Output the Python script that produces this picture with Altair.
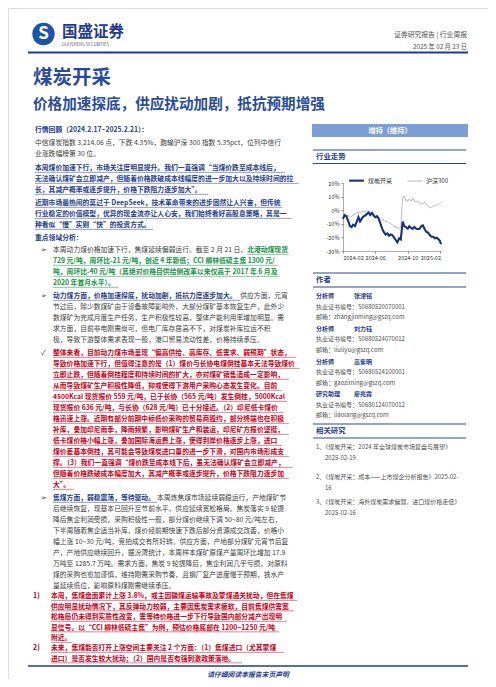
import altair as alt
import pandas as pd

FONT = "Noto Sans CJK SC"

# ---------------- line chart data ----------------
dates = [
    "2024-02-19", "2024-02-25", "2024-03-03", "2024-03-09", "2024-03-16", "2024-03-22",
    "2024-03-28", "2024-04-04", "2024-04-10", "2024-04-17", "2024-04-23", "2024-04-29",
    "2024-05-06", "2024-05-12", "2024-05-18", "2024-05-25", "2024-05-31", "2024-06-07",
    "2024-06-13", "2024-06-19", "2024-06-26", "2024-07-02", "2024-07-09", "2024-07-15",
    "2024-07-21", "2024-07-28", "2024-08-03", "2024-08-10", "2024-08-16", "2024-08-22",
    "2024-08-29", "2024-09-04", "2024-09-10", "2024-09-17", "2024-09-23", "2024-09-30",
    "2024-10-06", "2024-10-12", "2024-10-19", "2024-10-25", "2024-11-01", "2024-11-07",
    "2024-11-13", "2024-11-20", "2024-11-26", "2024-12-03", "2024-12-09", "2024-12-15",
    "2024-12-22", "2024-12-28", "2025-01-03", "2025-01-10", "2025-01-16", "2025-01-23",
    "2025-01-29", "2025-02-04", "2025-02-11", "2025-02-17", "2025-02-21",
]
coal = [
    -6.4, -3.6, -4.5, -7.6, -11.7, -12.4, -10.7, -11.7, -8.8, -5.2, -8.3, -6.4,
    -4.5, -4.0, -2.9, -1.7, -3.6, -2.1, -4.0, -5.2, -4.5, -6.4, -10.0, -13.6,
    -16.0, -17.9, -17.1, -18.8, -17.9, -18.3, -20.2, -21.9, -23.6, -20.7, -21.5, -8.3,
    -11.7, -12.4, -13.6, -11.7, -13.1, -13.6, -12.4, -13.6, -14.0, -13.6, -11.7, -11.2,
    -14.0, -16.0, -16.4, -18.3, -19.5, -19.5, -20.7, -20.2, -21.2, -22.6, -25.0,
]
hs300 = [
    -4.5, -4.5, -3.6, -4.0, -4.5, -4.5, -3.6, -2.9, -2.1, -1.7, -2.1, -1.2,
    -0.5, -1.2, -0.5, -0.5, -1.7, -2.1, -2.9, -3.6, -4.0, -4.5, -6.4, -7.6,
    -6.9, -8.3, -8.3, -9.3, -10.0, -10.7, -11.7, -12.4, -13.1, -13.1, -12.6, 9.5,
    10.5, 6.7, 6.7, 8.3, 6.7, 9.0, 6.7, 6.0, 6.7, 5.5, 4.3, 5.0,
    6.0, 4.3, 3.1, 1.9, 1.9, 3.1, 3.1, 3.6, 4.3, 5.5, 6.0,
]
series_names = ["煤炭开采", "沪深300"]
y_ticks = [-30, -20, -10, 0, 10, 20]
x_tick_dates = [(2024, 2, 19), (2024, 6, 19), (2024, 10, 19), (2025, 2, 19)]
x_domain = [(2024, 2, 19), (2025, 2, 21)]

# ---------------- page text ----------------
logo_mark = "S"
brand = "国盛证券"
brand_en = "GUOSHENG SECURITIES"
report_type = "证券研究报告  |  行业周报"
report_date = "2025 年 02 月 23 日"
title = "煤炭开采"
subtitle = "价格加速探底，供应扰动加剧，抵抗预期增强"
rating = "增持（维持）"
footer = "请仔细阅读本报告末页声明"

head_review = "行情回顾（2024.2.17~2025.2.21）："
p1 = [[("中信煤炭指数 3,214.06 点，下跌 4.35%，跑输沪深 300 指数 5.35pct，位列中信行", "n")],
      [("业涨跌幅榜第 30 位。", "n")]]
p2 = [[("本周煤价加速下行，市场关注度明显提升。我们一直强调“当煤价跌至成本线后，", "b")],
      [("无法确认煤矿会立即减产，但随着价格跌破成本线幅度的进一步加大以及持续时间的拉", "b")],
      [("长，其减产概率或逐步提升，价格下跌阻力逐步加大”。", "b")]]
p3 = [[("近期市场最热闹的莫过于 DeepSeek，技术革命带来的进步固然让人兴奋，但传统", "b")],
      [("行业稳定的价值模型，优异的现金流亦让人心安，我们始终看好高股息策略，其是一", "b")],
      [("种看似“慢”实则“快”的投资方式。", "b")]]
head_focus = "重点领域分析："
b1 = [[("本周动力煤价格加速下行，焦煤延续偏弱运行。截至 2 月 21 日，", "n"), ("北港动煤现货", "g")],
      [("729 元/吨，周环比-21 元/吨，创近 4 年新低；CCI 柳林低硫主焦 1300 元/", "g")],
      [("吨，周环比-40 元/吨（其绝对价格自供给侧改革以来仅高于 2017 年 6 月及", "g")],
      [("2020 年首月水平）。", "g")]]
b2 = [[("动力煤方面，价格加速探底，扰动加剧，抵抗力度逐步加大。", "b"), ("供应方面，元宵", "n")],
      [("节过后，除少数煤矿由于设备故障影响外，大部分煤矿基本恢复生产，此外少", "n")],
      [("数煤矿为完成月度生产任务，生产积极性较高，整体产能利用率增加明显。需", "n")],
      [("求方面，目前非电刚需尚可，但电厂库存居高不下，对煤炭补库拉运不积", "n")],
      [("极，导致下游整体需求表现一般，港口贸易流动性差，价格持续承压。", "n")]]
b3 = [[(t, "r")] for t in [
    "整体来看，目前动力煤市场呈现“偏高供给、高库存、低需求、弱预期”状态，",
    "导致价格加速下行，但值得注意的是（1）煤价与长协电煤倒挂基本无法导致煤价",
    "立即止跌，但随着倒挂程度和持续时间的扩大，亦对煤矿销售造成一定影响，",
    "从而导致煤矿生产积极性降低，抑或使得下游用户采购心态发生变化。目前",
    "4500Kcal 现货报价 559 元/吨，已于长协（565 元/吨）发生倒挂，5000Kcal",
    "现货报价 636 元/吨，与长协（628 元/吨）已十分接近。（2）印尼低卡煤价",
    "格迅速上涨。近期有部分前期中标低价采购的贸易商毁约，部分终端也在积极",
    "补库，叠加印尼雨季，降雨频繁，影响煤矿生产和装运，印尼矿方报价坚挺，",
    "低卡煤价格小幅上涨，叠加国际海运费上涨，使得到岸价格逐步上涨，进口",
    "煤价差基本倒挂，其可能会导致煤炭进口量的进一步下滑，对国内市场形成支",
    "撑。（3）我们一直强调“煤价跌至成本线下后，虽无法确认煤矿会立即减产，",
    "但随着价格跌破成本幅度加大，其减产概率或逐步提升，价格下跌阻力逐步加",
    "大”。",
]]
b4 = [[("焦煤方面，弱稳震荡，等待驱动。", "b"), ("本周炼焦煤市场延续弱稳运行，产地煤矿节", "n")]] + [[(t, "n")] for t in [
    "后继续恢复，现基本已回升至节前水平，供应延续宽松格局。焦炭落实 9 轮提",
    "降后焦企利润受损，采购积极性一般，部分煤价继续下调 50~80 元/吨左右，",
    "下半周随着焦企适当补库，煤价经前期快速下跌后部分资源成交改善，价格小",
    "幅上涨 10~30 元/吨，竞拍成交有所好转。供应方面，产地部分煤矿元宵节后复",
    "产，产地供应继续回升，据汾渭统计，本周样本煤矿原煤产量周环比增加 17.9",
    "万吨至 1285.7 万吨。需求方面，焦炭 9 轮提降后，焦企利润几乎亏损，对原料",
    "煤的采购也愈加谨慎，维持刚需采购节奏，且钢厂复产进度慢于预期，铁水产",
    "量延续低位，影响原料煤刚需继续承压。",
]]
i1 = [[(t, "r")] for t in [
    "本周，焦煤盘面累计上涨 3.8%，或主因疆煤运输事故及蒙煤通关扰动，但在焦煤",
    "供应明显扰动情况下，其反弹动力较弱，主要因焦炭需求疲软，目前焦煤供需宽",
    "松格局仍未得到实质性改变，需等待价格进一步下行导致国内部分减产出现明",
    "显信号。以“CCI 柳林低硫主焦”为例，预估价格底部在 1200~1250 元/吨",
    "附近。",
]]
i2 = [[(t, "r")] for t in [
    "未来，焦煤能否打开上涨空间主要关注 2 个方面：（1）焦煤进口（尤其蒙煤",
    "进口）是否发生较大扰动；（2）国内是否有强刺激政策落地。",
]]
bullet_arrow = "➢"
bullet_check = "✓"
item_marks = ["1)", "2)"]

sec_trend = "行业走势"
sec_author = "作者"
sec_related = "相关研究"
authors = [("分析师", "张津铭", "S0680520070001", "zhangjinming@gszq.com"),
           ("分析师", "刘力钰", "S0680524070012", "liuliyu@gszq.com"),
           ("分析师", "高紫明", "S0680524100001", "gaoziming@gszq.com"),
           ("研究助理", "廖兆霖", "S0680124070012", "liaolang@gszq.com")]
cert_label = "执业证书编号："
mail_label = "邮箱："
related = [["1、《煤炭开采：2024 年全球煤炭市场复盘与展望》", "2025-02-19"],
           ["2、《煤炭开采：成本——上市煤企分析报告》2025-02-", "16"],
           ["3、《煤炭开采：海外煤炭需求偏弱，进口煤价格走低》", "2025-02-16"]]

# ---------------- layout helpers ----------------
OFF = 8
W, H = 480, 671
NAVY = "#1f3c8c"
STY = {
    "n": ("#404040", False, False),
    "h": (NAVY, True, False),
    "t": ("#2a4c98", True, False),
    "b": (NAVY, True, True),
    "g": ("#139343", True, True),
    "r": ("#c4001a", True, True),
    "rm": ("#b0001a", True, False),
    "w": ("#ffffff", True, False),
    "gray": ("#505050", False, False),
}
rows, rules, boxes = [], [], []


def em(ch):
    o = ord(ch)
    if o >= 0x2E80 or ch in "“”‘’—…":
        return 1.0
    if ch.isdigit():
        return 0.553
    if ch == " ":
        return 0.224
    if ch in ".,:;":
        return 0.27
    if ch == "%":
        return 0.86
    if ch in "/()-":
        return 0.35
    if ch == "~":
        return 0.56
    if ch.isupper():
        return 0.64
    return 0.52


def put(text, x, y, style, fs, align="left", italic=False):
    c, bold, under = STY[style]
    rows.append(dict(x=x - OFF, y=y - OFF, t=text, c=c, s=fs, bold=bold, al=align, it=italic))
    w = sum(em(ch) for ch in text) * fs * (1.02 if bold else 1.0)
    if under:
        rules.append(dict(x=x - OFF, x2=x + w - OFF, y=y - OFF + fs * 0.64, c=c, w=0.5))
    return x + w


def para(lines, x0, y0, fs=6.8, lh=11.0):
    for i, segs in enumerate(lines):
        x = x0
        for text, st in segs:
            x = put(text, x, y0 + i * lh, st, fs)


def hline(x1, x2, y, c, w):
    rules.append(dict(x=x1 - OFF, x2=x2 - OFF, y=y - OFF, c=c, w=w))


# header
put(logo_mark, 43.5, 34, "w", 17, align="center")
put(brand, 62, 32, "h", 15.5)
put(brand_en, 62, 44.8, "gray", 4.2)
put(report_type, 467, 35, "gray", 6.8, align="right")
put(report_date, 467, 46.5, "gray", 6.3, align="right")
hline(28, 468, 52.5, NAVY, 1.8)
put(title, 33, 78, "t", 19.5)
put(subtitle, 33, 105, "t", 14.6)

# left column
LX = 35
put(head_review, LX, 130, "h", 6.8)
para(p1, LX, 143)
para(p2, LX, 168)
para(p3, LX, 203)
put(head_focus, LX, 238, "h", 6.8)
BX, MX = 53, 41
put(bullet_arrow, MX, 250, "n", 6.8)
para(b1, BX, 250)
put(bullet_arrow, MX, 296, "n", 6.8)
para(b2, BX, 296)
put(bullet_check, MX, 353, "n", 6.8)
para(b3, BX, 353)
put(bullet_arrow, MX, 498, "n", 6.8)
para(b4, BX, 498)
put(item_marks[0], 33, 596, "rm", 7)
para(i1, 51, 596, lh=10.5)
put(item_marks[1], 33, 648, "rm", 7)
para(i2, 51, 648, lh=10.5)

# right column
RX = 316
boxes.append(dict(x=312 - OFF, x2=468 - OFF, y=124 - OFF, y2=137 - OFF, c="#7e9fd5"))
put(rating, 390, 130.5, "w", 7.2, align="center")
hline(313, 466, 150, "#2b4a8a", 1.2)
put(sec_trend, RX, 157, "h", 7.4)
hline(313, 466, 163.5, "#2b4a8a", 1.0)

hline(313, 466, 273, "#2b4a8a", 1.2)
put(sec_author, RX, 280, "h", 7.4)
hline(313, 466, 287, "#2b4a8a", 1.0)
ay = 296
for role, name, cert, mail in authors:
    put(role, RX, ay, "h", 6.0)
    put(name, 354, ay, "h", 6.0)
    put(cert_label + cert, RX, ay + 10.5, "gray", 6.0)
    put(mail_label + mail, RX, ay + 21, "gray", 6.0)
    ay += 32.8

hline(313, 466, 424, "#2b4a8a", 1.2)
put(sec_related, RX, 431, "h", 7.4)
hline(313, 466, 438, "#2b4a8a", 1.0)
for (l1, l2), ry in zip(related, [447, 477, 502]):
    put(l1, RX, ry, "gray", 6.0)
    put(l2, RX + 9, ry + 11, "gray", 6.0)

# footer
hline(28, 468, 666, NAVY, 1.3)
put(footer, 248, 675, "h", 6.8, align="center", italic=True)

tdf = pd.DataFrame(rows)
rdf = pd.DataFrame(rules)
bdf = pd.DataFrame(boxes)

layers = []
layers.append(alt.Chart(bdf).mark_rect().encode(
    x=alt.X("x:Q", scale=None, axis=None), x2="x2:Q",
    y=alt.Y("y:Q", scale=None, axis=None), y2="y2:Q",
    color=alt.Color("c:N", scale=None)))
logo_df = pd.DataFrame({"x": [43.5 - OFF], "y": [34 - OFF]})
layers.append(alt.Chart(logo_df).mark_point(filled=True, shape="circle", size=500,
                                             opacity=1, color="#1d55a6").encode(
    x=alt.X("x:Q", scale=None, axis=None), y=alt.Y("y:Q", scale=None, axis=None)))
layers.append(alt.Chart(rdf).mark_rule().encode(
    x=alt.X("x:Q", scale=None, axis=None), x2="x2:Q",
    y=alt.Y("y:Q", scale=None, axis=None),
    color=alt.Color("c:N", scale=None),
    strokeWidth=alt.StrokeWidth("w:Q", scale=None)))

for bold in (False, True):
    for align in ("left", "center", "right"):
        for it in (False, True):
            sub = tdf[(tdf["bold"] == bold) & (tdf["al"] == align) & (tdf["it"] == it)]
            if len(sub) == 0:
                continue
            layers.append(alt.Chart(sub[["x", "y", "t", "c", "s"]]).mark_text(
                font=FONT, fontWeight="bold" if bold else "normal", align=align,
                baseline="middle", fontStyle="italic" if it else "normal").encode(
                x=alt.X("x:Q", scale=None, axis=None),
                y=alt.Y("y:Q", scale=None, axis=None),
                text="t:N",
                color=alt.Color("c:N", scale=None),
                size=alt.Size("s:Q", scale=None)))

# ---------------- line chart ----------------
n = len(dates)
ldf = pd.DataFrame({
    "date": dates * 2,
    "series": [series_names[0]] * n + [series_names[1]] * n,
    "v": coal + hs300,
})
dt = lambda t: alt.DateTime(year=t[0], month=t[1], date=t[2])
xs = alt.Scale(domain=[dt(d) for d in x_domain], range=[343 - OFF, 441 - OFF])
ys = alt.Scale(domain=[-30, 20], range=[251 - OFF, 183 - OFF], nice=False, zero=False)
cs = alt.Scale(domain=series_names, range=["#1b2e7a", "#a9a9a9"])
ws = alt.Scale(domain=series_names, range=[2.1, 0.8])
leg = alt.Legend(orient="none", legendX=348 - OFF, legendY=172 - OFF, direction="horizontal",
                 title=None, labelFont=FONT, labelFontSize=6, labelColor="#333333",
                 symbolType="stroke", symbolSize=220, columnPadding=12, labelOffset=3)
ax_common = dict(title=None, labelFont=FONT, labelFontSize=5.5, labelColor="#333333",
                 tickSize=2, tickColor="#8a8a8a", domainColor="#8a8a8a", domainWidth=0.7,
                 grid=False, labelPadding=2)
base = alt.Chart(ldf).mark_line().encode(
    x=alt.X("date:T", scale=xs,
            axis=alt.Axis(values=[dt(d) for d in x_tick_dates], format="%Y-%m",
                          offset=-(H - (251 - OFF)), labelOverlap=False, **ax_common)),
    y=alt.Y("v:Q", scale=ys,
            axis=alt.Axis(values=y_ticks, labelExpr="datum.value + '%'",
                          offset=-(343 - OFF), **ax_common)),
    color=alt.Color("series:N", scale=cs, legend=leg),
    strokeWidth=alt.StrokeWidth("series:N", scale=ws, legend=leg),
)
lines = alt.layer(
    base.transform_filter(alt.datum.series == series_names[1]),
    base.transform_filter(alt.datum.series == series_names[0]),
)
layers.append(lines)

chart = alt.layer(*layers).resolve_scale(
    x="independent", y="independent", color="independent",
    size="independent", strokeWidth="independent",
).properties(
    width=W, height=H, padding=0, autosize=alt.AutoSizeParams(type="none"),
).configure_view(stroke=None).configure(font=FONT)

chart.save("out.html", embed_options={"renderer": "svg", "actions": False})
